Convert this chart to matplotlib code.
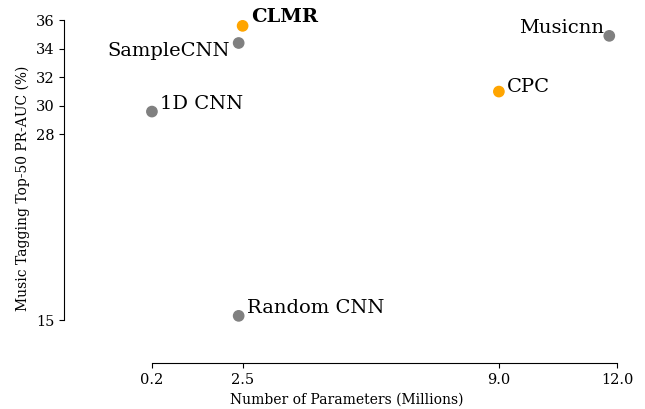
import matplotlib
matplotlib.use('Agg')
import matplotlib.pyplot as plt

# Model comparison: parameters vs. PR-AUC
models = ['CLMR', 'SampleCNN', '1D CNN', 'Random CNN', 'Musicnn', 'CPC']
params = [2.5, 2.4, 0.2, 2.4, 11.8, 9.0]
pr_auc = [35.6, 34.4, 29.6, 15.3, 34.9, 31.0]
colors = ['orange', 'grey', 'grey', 'grey', 'grey', 'orange']

x_ticks = [0.2, 2.5, 9.0, 12.0]
y_ticks = [15, 28, 30, 32, 34, 36]

# label offsets in points, and horizontal alignment
offsets = {
    'CLMR':       ((6, 0), 'left'),
    'SampleCNN':  ((-6, -12), 'right'),
    '1D CNN':     ((6, -1), 'left'),
    'Random CNN': ((6, -1), 'left'),
    'Musicnn':    ((-4, -1), 'right'),
    'CPC':        ((6, -3), 'left'),
}

plt.rcParams['font.family'] = 'DejaVu Serif'

fig = plt.figure(figsize = (6.45, 4.09), dpi = 100)
ax = fig.add_axes([64 / 645, 46 / 409, 565 / 645, 350 / 409])

ax.scatter(params, pr_auc, c = colors, s = 55, zorder = 3)

for name, x, y in zip(models, params, pr_auc):
    (dx, dy), ha = offsets[name]
    weight = 'bold' if name == 'CLMR' else 'normal'
    ax.annotate(name, (x, y), xytext = (dx, dy), textcoords = 'offset points',
                ha = ha, va = 'bottom', fontsize = 14, fontweight = weight)

ax.set_xlim(-2.03, 12.3)
ax.set_ylim(12.0, 36.5)
ax.set_xticks(x_ticks)
ax.set_xticklabels([str(t) for t in x_ticks])
ax.set_yticks(y_ticks)

ax.spines['top'].set_visible(False)
ax.spines['right'].set_visible(False)
ax.spines['left'].set_bounds(y_ticks[0], y_ticks[-1])
ax.spines['bottom'].set_bounds(x_ticks[0], x_ticks[-1])
ax.tick_params(labelsize = 10.5)

ax.set_xlabel('Number of Parameters (Millions)', fontsize = 10)
ax.set_ylabel('Music Tagging Top-50 PR-AUC (%)', fontsize = 10)

fig.savefig('out.png', dpi = 100)
